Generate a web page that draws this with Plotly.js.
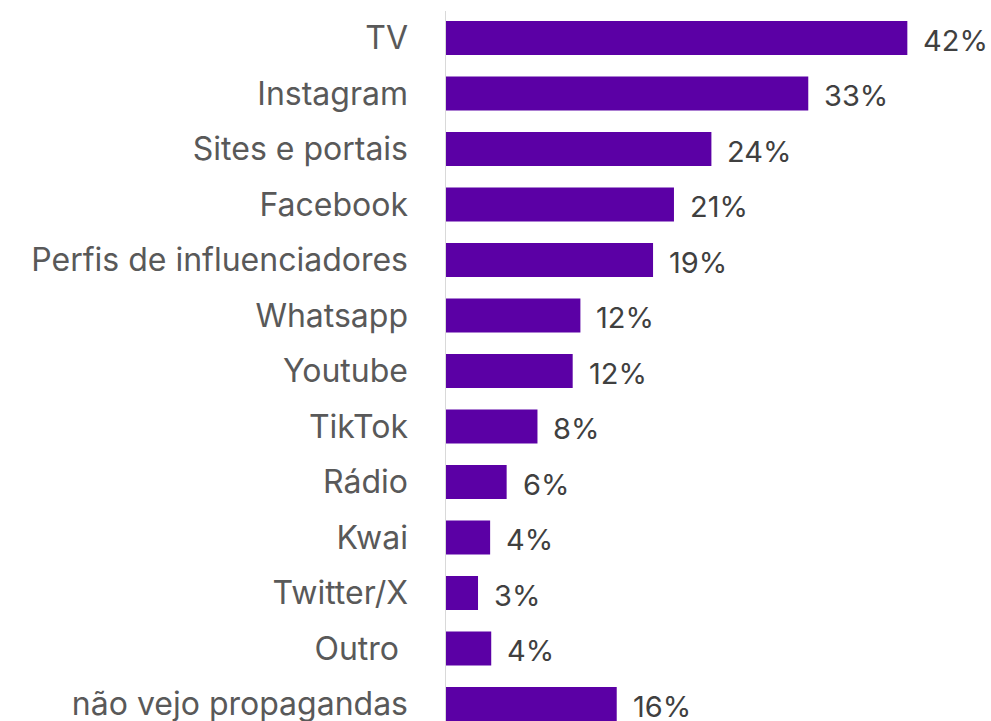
<!DOCTYPE html>
<html>
<head>
<meta charset="utf-8">
<script src="https://cdn.plot.ly/plotly-3.0.1.min.js"></script>
<style>html,body{margin:0;padding:0;background:#fff;}#chart{width:991px;height:721px;}</style>
</head>
<body>
<div id="chart"></div>
<script>
const categories = ['TV','Instagram','Sites e portais','Facebook','Perfis de influenciadores','Whatsapp','Youtube','TikTok','Rádio','Kwai','Twitter/X','Outro\u00a0','não vejo propagandas'];
const values = [42, 33, 24.2, 20.8, 18.9, 12.3, 11.6, 8.4, 5.6, 4.1, 3.0, 4.2, 15.6];
const valueLabels = ['42%','33%','24%','21%','19%','12%','12%','8%','6%','4%','3%','4%','16%'];

const FONT = 'Inter, "Open Sans", sans-serif';

const trace = {
  type: 'bar',
  orientation: 'h',
  x: values,
  y: categories,
  marker: {color: '#5B00A5'},
  hoverinfo: 'none'
};

const annotations = categories.map((c, i) => ({
  x: values[i], y: c, xref: 'x', yref: 'y',
  text: valueLabels[i], showarrow: false,
  xanchor: 'left', yanchor: 'middle', xshift: 15, yshift: -2,
  borderpad: 0,
  font: {family: FONT, size: 29, color: '#404040'}
}));

const layout = {
  width: 991, height: 721,
  margin: {l: 445, r: 0, t: 0, b: 0},
  paper_bgcolor: '#fff', plot_bgcolor: '#fff',
  bargap: 0.387,
  showlegend: false,
  xaxis: {range: [0, 49.6], visible: false, fixedrange: true},
  yaxis: {
    type: 'category',
    range: [12.306, -0.685],
    showline: false, showgrid: false, zeroline: false,
    ticks: '', ticklabelstandoff: 36,
    tickfont: {family: FONT, size: 32, color: '#595959'}
  },
  shapes: [{type: 'line', xref: 'x', yref: 'paper', x0: 0, x1: 0, y0: 0, y1: 1 - 11/721,
            line: {color: '#d9d9d9', width: 2}, layer: 'above'}],
  annotations: annotations
};

Plotly.newPlot('chart', [trace], layout, {displayModeBar: false, staticPlot: true});
</script>
</body>
</html>
